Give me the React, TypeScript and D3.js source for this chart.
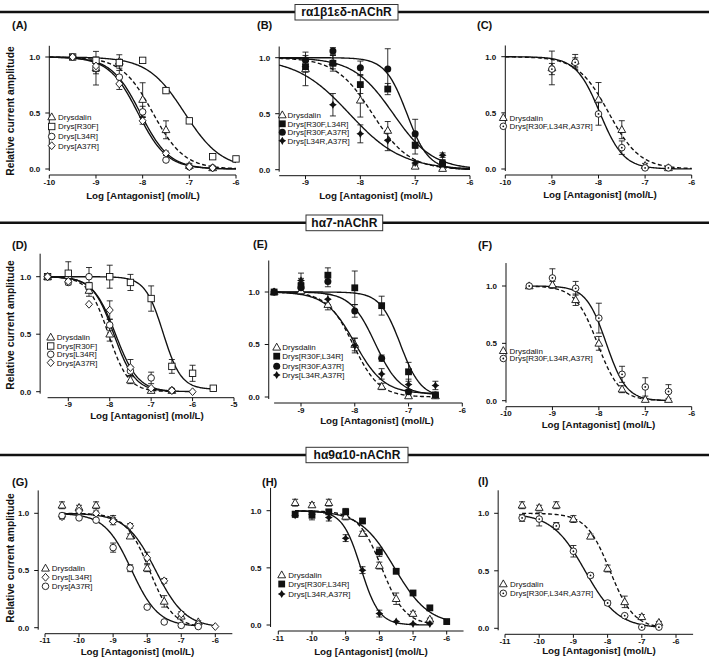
import React from 'react';
import * as d3 from 'd3';

// ---------- DATA ----------
// rat α1β1εδ
const ratX = [-9, -8.5, -8, -7.5, -7, -6.5];
const ratDrysY = [0.9, 0.96, 0.62, 0.35, 0.03, 0.01];
const ratDrysErr = [0.15, 0.06, 0.15, 0.08, 0.02, 0.01];
const ratDrysFit = [-7.78, 1.3, 1, 0];

const aX8 = [-9.5, -9, -8.5, -8, -7.5, -7, -6.5, -6];
const aX7 = [-9.5, -9, -8.5, -8, -7.5, -7, -6.5];
const aR30FY = [1.0, 0.97, 0.95, 0.97, 0.7, 0.43, 0.11, 0.09];
const aR30FErr = [0, 0.03, 0.03, 0, 0.02, 0, 0, 0];
const aR30FFit = [-7.1, 1.1, 1, 0];
const aL34RY = [1.0, 0.9, 0.82, 0.51, 0.08, 0.02, 0.01];
const aL34RErr = [0, 0.05, 0.06, 0.05, 0, 0, 0];
const aL34RFit = [-8.05, 1.4, 1, 0];
const aA37RY = [1.0, 0.92, 0.76, 0.43, 0.14, 0.02, 0.01];
const aA37RErr = [0, 0.05, 0.05, 0.03, 0.02, 0, 0];
const aA37RFit = [-8.1, 1.4, 1, 0];

const bR30FL34RY = [0.92, 0.95, 0.76, 0.72, 0.22, 0.05];
const bR30FL34RErr = [0.05, 0.07, 0.08, 0.05, 0.08, 0.03];
const bR30FL34RFit = [-7.4, 1.2, 1, 0];
const bR30FA37RY = [0.98, 1.06, 0.91, 0.9, 0.32, 0.06];
const bR30FA37RErr = [0.04, 0.03, 0.06, 0.18, 0.13, 0.03];
const bR30FA37RFit = [-7.15, 2.2, 1, 0];
const bL34RA37RY = [0.92, 0.58, 0.32, 0.26, 0.06, 0.13];
const bL34RA37RErr = [0.04, 0.1, 0.08, 0.09, 0.02, 0.02];
const bL34RA37RFit = [-8.2, 0.9, 1, 0];

const cTripleY = [0.89, 0.95, 0.49, 0.19, 0.01, 0.01];
const cTripleErr = [0.05, 0.04, 0.1, 0.06, 0.01, 0];
const cTripleFit = [-7.97, 1.7, 1, 0];

// human α7
const h7X = [-9.5, -9, -8.5, -8, -7.5, -7, -6.5];
const h7DrysY = [1.0, 1.01, 0.88, 0.5, 0.1, 0.01, 0.01];
const h7DrysErr = [0, 0.03, 0.05, 0.06, 0.03, 0.01, 0];
const h7DrysFit = [-8.03, 1.8, 1, 0];

const dX9 = [-9.5, -9, -8.5, -8, -7.5, -7, -6.5, -6, -5.5];
const dX8 = [-9.5, -9, -8.5, -8, -7.5, -7, -6.5, -6];
const dR30FY = [1.0, 1.03, 0.92, 1.0, 0.95, 0.81, 0.22, 0.16, 0.03];
const dR30FErr = [0, 0.1, 0.03, 0.1, 0.07, 0.11, 0.06, 0.07, 0];
const dR30FFit = [-6.71, 2.0, 1, 0.02];
const dL34RY = [1.0, 0.95, 1.0, 0.58, 0.18, 0.12, 0.01];
const dL34RErr = [0, 0.02, 0.08, 0.05, 0.04, 0.05, 0];
const dL34RFit = [-7.9, 1.7, 1, 0];
const dA37RY = [1.0, 0.96, 0.76, 0.71, 0.21, 0.03, 0.01, 0.0];
const dA37RErr = [0, 0, 0, 0.08, 0.07, 0, 0, 0];
const dA37RFit = [-7.86, 1.6, 1, 0];

const eR30FL34RY = [1.0, 1.06, 1.16, 1.04, 0.87, 0.24, 0.02];
const eR30FL34RErr = [0, 0.07, 0.07, 0.16, 0.09, 0.09, 0.02];
const eR30FL34RFit = [-7.15, 2.3, 1, 0];
const eR30FA37RY = [1.0, 1.04, 1.1, 0.82, 0.37, 0.05, 0.02];
const eR30FA37RErr = [0, 0.05, 0.05, 0.06, 0.03, 0.02, 0];
const eR30FA37RFit = [-7.62, 1.9, 1, 0.02];
const eL34RA37RY = [1.0, 1.11, 0.93, 0.49, 0.22, 0.12, 0.11];
const eL34RA37RErr = [0, 0.07, 0.05, 0.07, 0.05, 0.05, 0.04];
const eL34RA37RFit = [-8.0, 1.6, 1, 0.03];

const fTripleY = [1.0, 1.07, 0.98, 0.72, 0.23, 0.12, 0.08];
const fTripleErr = [0, 0.08, 0.06, 0.13, 0.07, 0.08, 0.06];
const fTripleFit = [-7.84, 2.0, 1, 0];

// human α9α10
const h9X = [-10.5, -10, -9.5, -9, -8.5, -8, -7.5, -7, -6.5];
const h9X10 = [-10.5, -10, -9.5, -9, -8.5, -8, -7.5, -7, -6.5, -6];
const h9DrysY = [1.07, 1.05, 1.07, 0.95, 0.8, 0.52, 0.23, 0.1, 0.05];
const h9DrysErr = [0.03, 0.02, 0.03, 0.03, 0.02, 0.03, 0.05, 0.02, 0.01];
const h9DrysFit = [-7.93, 1.25, 1, 0];

const gL34RY = [0.97, 1.02, 1.0, 0.93, 0.89, 0.61, 0.41, 0.12, 0.03, 0.01];
const gL34RErr = [0.02, 0.02, 0.02, 0.03, 0.02, 0.05, 0.02, 0.02, 0, 0];
const gL34RFit = [-7.75, 1.0, 1, 0];
const gA37RY = [0.98, 0.96, 0.94, 0.7, 0.52, 0.18, 0.05, 0.02, 0.01];
const gA37RErr = [0.02, 0, 0, 0.04, 0.03, 0, 0, 0, 0];
const gA37RFit = [-8.46, 1.1, 1, 0.01];

const hR30FL34RY = [0.97, 0.96, 0.99, 0.99, 0.91, 0.64, 0.47, 0.28, 0.15, 0.03];
const hR30FL34RErr = [0.02, 0.04, 0.02, 0.03, 0.02, 0.04, 0.02, 0.02, 0.02, 0];
const hR30FL34RFit = [-7.55, 0.85, 1, 0];
const hL34RA37RY = [0.96, 0.97, 0.94, 0.76, 0.48, 0.1, 0.03, 0.01, 0.01];
const hL34RA37RErr = [0.02, 0.02, 0.03, 0.03, 0.03, 0.03, 0, 0, 0];
const hL34RA37RFit = [-8.55, 1.6, 1, 0];

const iTripleY = [0.96, 0.95, 0.89, 0.67, 0.46, 0.22, 0.11, 0.01, 0.01];
const iTripleErr = [0.03, 0.06, 0.03, 0.05, 0.02, 0.02, 0, 0, 0];
const iTripleFit = [-8.66, 0.9, 1, 0];

const headerTitles = ['rα1β1εδ-nAChR', 'hα7-nAChR', 'hα9α10-nAChR'];
const yTickVals = [0, 0.5, 1.0];

// ---------- TYPES ----------
type Sym = 'triOpen' | 'sqOpen' | 'circOpen' | 'diaOpen' | 'sqFill' | 'circFill' | 'diaFill' | 'circDot';
interface Series {
  name: string; sym: Sym; xs: number[]; ys: number[]; errs: number[]; fit: number[]; dashed?: boolean;
}
interface Panel {
  label: string; labelX: number; labelY: number;
  xd: number[]; xr: number[]; yAxisAt: number; xFrom: number; xTo: number; xTicks: number[];
  yr: number[]; yTop: number;
  xLabelX: number; xLabelY: number; yLabel?: number[];
  legSymX: number; legTextX: number; legRows: number[];
  series: Series[]; fullCurve: boolean;
}

const S = (name: string, sym: Sym, xs: number[], ys: number[], errs: number[], fit: number[], dashed = false): Series =>
  ({ name, sym, xs, ys, errs, fit, dashed });

const ratDrys = S('Drysdalin', 'triOpen', ratX, ratDrysY, ratDrysErr, ratDrysFit, true);
const h7Drys = S('Drysdalin', 'triOpen', h7X, h7DrysY, h7DrysErr, h7DrysFit, true);
const h9Drys = S('Drysdalin', 'triOpen', h9X, h9DrysY, h9DrysErr, h9DrysFit, true);

const panels: Panel[] = [
  {
    label: '(A)', labelX: 12, labelY: 25,
    xd: [-10, -6], xr: [49.3, 236], yAxisAt: -10, xFrom: -10, xTo: -6, xTicks: [-10, -9, -8, -7, -6],
    yr: [169, 57], yTop: 1.1, xLabelX: 143, xLabelY: 195, yLabel: [10, 111],
    legSymX: 51.7, legTextX: 58, legRows: [117, 126.5, 136.5, 145.7],
    fullCurve: true,
    series: [ratDrys,
      S('Drys[R30F]', 'sqOpen', aX8, aR30FY, aR30FErr, aR30FFit),
      S('Drys[L34R]', 'circOpen', aX7, aL34RY, aL34RErr, aL34RFit),
      S('Drys[A37R]', 'diaOpen', aX7, aA37RY, aA37RErr, aA37RFit)],
  },
  {
    label: '(B)', labelX: 257, labelY: 25,
    xd: [-9, -6], xr: [305.5, 470], yAxisAt: -9.48, xFrom: -9.48, xTo: -6, xTicks: [-9, -8, -7, -6],
    yr: [169.7, 57.7], yTop: 1.1, xLabelX: 376, xLabelY: 195,
    legSymX: 282.3, legTextX: 287.5, legRows: [115, 123.8, 132.3, 140.8],
    fullCurve: true,
    series: [ratDrys,
      S('Drys[R30F,L34R]', 'sqFill', ratX, bR30FL34RY, bR30FL34RErr, bR30FL34RFit),
      S('Drys[R30F,A37R]', 'circFill', ratX, bR30FA37RY, bR30FA37RErr, bR30FA37RFit),
      S('Drys[L34R,A37R]', 'diaFill', ratX, bL34RA37RY, bL34RA37RErr, bL34RA37RFit)],
  },
  {
    label: '(C)', labelX: 477, labelY: 25,
    xd: [-10, -6], xr: [505.3, 691.7], yAxisAt: -10, xFrom: -10, xTo: -6, xTicks: [-10, -9, -8, -7, -6],
    yr: [169, 56.7], yTop: 1.1, xLabelX: 600, xLabelY: 194,
    legSymX: 503.3, legTextX: 509.5, legRows: [117.7, 126.3],
    fullCurve: true,
    series: [ratDrys,
      S('Drys[R30F,L34R,A37R]', 'circDot', ratX, cTripleY, cTripleErr, cTripleFit)],
  },
  {
    label: '(D)', labelX: 12, labelY: 245,
    xd: [-9, -5], xr: [68.3, 234], yAxisAt: -9.68, xFrom: -9.5, xTo: -5, xTicks: [-9, -8, -7, -6, -5],
    yr: [391.7, 276.7], yTop: 1.2, xLabelX: 147, xLabelY: 415, yLabel: [10, 325],
    legSymX: 50.7, legTextX: 56.7, legRows: [337.3, 346, 354.3, 362.7],
    fullCurve: false,
    series: [h7Drys,
      S('Drys[R30F]', 'sqOpen', dX9, dR30FY, dR30FErr, dR30FFit),
      S('Drys[L34R]', 'circOpen', h7X, dL34RY, dL34RErr, dL34RFit),
      S('Drys[A37R]', 'diaOpen', dX8, dA37RY, dA37RErr, dA37RFit)],
  },
  {
    label: '(E)', labelX: 253, labelY: 243.5,
    xd: [-9, -6], xr: [301, 462.3], yAxisAt: -9.6, xFrom: -9.5, xTo: -6, xTicks: [-9, -8, -7, -6],
    yr: [397, 292], yTop: 1.3, xLabelX: 377, xLabelY: 420,
    legSymX: 276.7, legTextX: 282.3, legRows: [347.3, 356.2, 366.3, 375],
    fullCurve: false,
    series: [h7Drys,
      S('Drys[R30F,L34R]', 'sqFill', h7X, eR30FL34RY, eR30FL34RErr, eR30FL34RFit),
      S('Drys[R30F,A37R]', 'circFill', h7X, eR30FA37RY, eR30FA37RErr, eR30FA37RFit),
      S('Drys[L34R,A37R]', 'diaFill', h7X, eL34RA37RY, eL34RA37RErr, eL34RA37RFit)],
  },
  {
    label: '(F)', labelX: 478, labelY: 245,
    xd: [-10, -6], xr: [506, 691.7], yAxisAt: -10, xFrom: -10, xTo: -6, xTicks: [-10, -9, -8, -7, -6],
    yr: [400.7, 286], yTop: 1.2, xLabelX: 598.5, xLabelY: 424.5,
    legSymX: 503.3, legTextX: 509.5, legRows: [350.7, 358.5],
    fullCurve: false,
    series: [h7Drys,
      S('Drys[R30F,L34R,A37R]', 'circDot', h7X, fTripleY, fTripleErr, fTripleFit)],
  },
  {
    label: '(G)', labelX: 12, labelY: 482,
    xd: [-11, -6], xr: [45, 215.3], yAxisAt: -11.2, xFrom: -11, xTo: -5.5, xTicks: [-11, -10, -9, -8, -7, -6],
    yr: [627.7, 513.3], yTop: 1.2, xLabelX: 137.5, xLabelY: 651.7, yLabel: [10, 558],
    legSymX: 45.5, legTextX: 51.7, legRows: [568.3, 577.3, 586.3],
    fullCurve: false,
    series: [h9Drys,
      S('Drys[L34R]', 'diaOpen', h9X10, gL34RY, gL34RErr, gL34RFit),
      S('Drys[A37R]', 'circOpen', h9X, gA37RY, gA37RErr, gA37RFit)],
  },
  {
    label: '(H)', labelX: 262, labelY: 482,
    xd: [-11, -6], xr: [278.3, 446.7], yAxisAt: -11.23, xFrom: -11, xTo: -5.5, xTicks: [-11, -10, -9, -8, -7, -6],
    yr: [625, 510.7], yTop: 1.2, xLabelX: 371, xLabelY: 651.7,
    legSymX: 281.7, legTextX: 288.3, legRows: [575, 584, 594],
    fullCurve: false,
    series: [h9Drys,
      S('Drys[R30F,L34R]', 'sqFill', h9X10, hR30FL34RY, hR30FL34RErr, hR30FL34RFit),
      S('Drys[L34R,A37R]', 'diaFill', h9X, hL34RA37RY, hL34RA37RErr, hL34RA37RFit)],
  },
  {
    label: '(I)', labelX: 478, labelY: 481,
    xd: [-11, -6], xr: [505, 676], yAxisAt: -11.2, xFrom: -11, xTo: -5.5, xTicks: [-11, -10, -9, -8, -7, -6],
    yr: [628.3, 513.3], yTop: 1.2, xLabelX: 599, xLabelY: 650.5,
    legSymX: 503.3, legTextX: 510, legRows: [584, 593.3],
    fullCurve: false,
    series: [h9Drys,
      S('Drys[R30F,L34R,A37R]', 'circDot', h9X, iTripleY, iTripleErr, iTripleFit)],
  },
];

const headers = [
  { lineY: 12, box: [295, 4.5, 103, 15.5] },
  { lineY: 222.7, box: [306, 215, 76.7, 15.7] },
  { lineY: 455, box: [306, 447.3, 102, 15.4] },
];

const FONT = "'Liberation Sans', Arial, Helvetica, sans-serif";
const INK = '#111';

const hill = (x: number, p: number[]) => p[3] + (p[2] - p[3]) / (1 + Math.pow(10, (x - p[0]) * p[1]));

function Marker({ sym, x, y }: { sym: Sym; x: number; y: number }) {
  const sw = 0.9;
  switch (sym) {
    case 'triOpen':
      return <polygon points={`${x},${y - 4.1} ${x - 3.9},${y + 2.8} ${x + 3.9},${y + 2.8}`} fill="#fff" stroke={INK} strokeWidth={sw} />;
    case 'sqOpen':
      return <rect x={x - 3.2} y={y - 3.2} width={6.4} height={6.4} fill="#fff" stroke={INK} strokeWidth={sw} />;
    case 'circOpen':
      return <circle cx={x} cy={y} r={3.3} fill="#fff" stroke={INK} strokeWidth={sw} />;
    case 'diaOpen':
      return <polygon points={`${x},${y - 3.9} ${x + 3.5},${y} ${x},${y + 3.9} ${x - 3.5},${y}`} fill="#fff" stroke={INK} strokeWidth={sw} />;
    case 'sqFill':
      return <rect x={x - 3.4} y={y - 3.4} width={6.8} height={6.8} fill={INK} />;
    case 'circFill':
      return <circle cx={x} cy={y} r={3.5} fill={INK} />;
    case 'diaFill':
      return <polygon points={`${x},${y - 4.1} ${x + 1.5},${y - 1.5} ${x + 3.9},${y} ${x + 1.5},${y + 1.5} ${x},${y + 4.1} ${x - 1.5},${y + 1.5} ${x - 3.9},${y} ${x - 1.5},${y - 1.5}`} fill={INK} />;
    case 'circDot':
      return (
        <g>
          <circle cx={x} cy={y} r={3.3} fill="#fff" stroke={INK} strokeWidth={sw} />
          <circle cx={x} cy={y} r={0.9} fill={INK} />
        </g>
      );
  }
  return null;
}

function PanelView({ p }: { p: Panel }) {
  const x = d3.scaleLinear().domain(p.xd).range(p.xr);
  const y = d3.scaleLinear().domain([0, 1]).range(p.yr);
  const ax = x(p.yAxisAt);
  const xAxisY = y(0) + 6;
  const line = d3.line<number[]>().x(d => d[0]).y(d => d[1]);

  const curves = p.series.map((s, i) => {
    const from = p.fullCurve ? p.yAxisAt : s.xs[0];
    const to = p.fullCurve ? p.xTo : s.xs[s.xs.length - 1];
    const xs = d3.range(from, to + 0.0001, 0.02);
    const pts = xs.map(v => [x(v), y(hill(v, s.fit))]);
    return (
      <path key={'c' + i} d={line(pts) || ''} fill="none" stroke={INK} strokeWidth={1.35}
        strokeDasharray={s.dashed ? '4,2.5' : undefined} />
    );
  });

  const errs = p.series.map((s, i) => (
    <g key={'e' + i} stroke={INK} strokeWidth={0.85}>
      {s.xs.map((xv, j) => {
        const e = s.errs[j];
        if (!e) return null;
        const cx = x(xv);
        const y1 = y(s.ys[j] - e), y2 = y(s.ys[j] + e);
        return (
          <g key={j}>
            <line x1={cx} x2={cx} y1={y1} y2={y2} />
            <line x1={cx - 3} x2={cx + 3} y1={y1} y2={y1} />
            <line x1={cx - 3} x2={cx + 3} y1={y2} y2={y2} />
          </g>
        );
      })}
    </g>
  ));

  const marks = p.series.map((s, i) => (
    <g key={'m' + i}>
      {s.xs.map((xv, j) => <Marker key={j} sym={s.sym} x={x(xv)} y={y(s.ys[j])} />)}
    </g>
  ));

  return (
    <g fontFamily={FONT}>
      <text x={p.labelX} y={p.labelY + 4} fontSize={11} fontWeight="bold" fill={INK}>{p.label}</text>
      <line x1={ax} x2={ax} y1={y(p.yTop)} y2={y(0) + 2} stroke={INK} strokeWidth={1} />
      {yTickVals.map(v => (
        <g key={'yt' + v}>
          <line x1={ax - 4} x2={ax} y1={y(v)} y2={y(v)} stroke={INK} strokeWidth={1} />
          <text x={ax - 9} y={y(v) + 2.8} fontSize={8} fontWeight="bold" textAnchor="end" fill={INK}>{d3.format('.1f')(v)}</text>
        </g>
      ))}
      <line x1={x(p.xFrom)} x2={x(p.xTo)} y1={xAxisY} y2={xAxisY} stroke={INK} strokeWidth={1} />
      {p.xTicks.map(v => (
        <g key={'xt' + v}>
          <line x1={x(v)} x2={x(v)} y1={xAxisY} y2={xAxisY + 3.5} stroke={INK} strokeWidth={1} />
          <text x={x(v)} y={xAxisY + 9.5} fontSize={8} fontWeight="bold" textAnchor="middle" fill={INK}>{'-' + Math.abs(v)}</text>
        </g>
      ))}
      <text x={p.xLabelX} y={p.xLabelY + 3.5} fontSize={9.8} fontWeight="bold" textAnchor="middle" fill={INK}>Log [Antagonist] (mol/L)</text>
      {p.yLabel && (
        <text transform={`translate(${p.yLabel[0] + 3.5},${p.yLabel[1]}) rotate(-90)`} fontSize={10.3} fontWeight="bold" textAnchor="middle" fill={INK}>Relative current amplitude</text>
      )}
      {curves}
      {errs}
      {marks}
      {p.series.map((s, i) => (
        <g key={'l' + i}>
          <Marker sym={s.sym} x={p.legSymX} y={p.legRows[i]} />
          <text x={p.legTextX} y={p.legRows[i] + 2.9} fontSize={8} fill={INK}>{s.name}</text>
        </g>
      ))}
    </g>
  );
}

export default function App() {
  return (
    <svg width={709} height={659} style={{ position: 'absolute', left: 0, top: 0, background: '#fff' }}>
      <rect x={0} y={0} width={709} height={659} fill="#fff" />
      {headers.map((h, i) => (
        <g key={'h' + i}>
          <line x1={0} x2={709} y1={h.lineY} y2={h.lineY} stroke={INK} strokeWidth={2.6} />
          <rect x={h.box[0]} y={h.box[1]} width={h.box[2]} height={h.box[3]} fill="#fff" stroke="#333" strokeWidth={1} />
          <text x={h.box[0] + h.box[2] / 2} y={h.box[1] + h.box[3] / 2 + 4.2} fontFamily={FONT} fontSize={12} fontWeight="bold" textAnchor="middle" fill={INK}>{headerTitles[i]}</text>
        </g>
      ))}
      {panels.map((p, i) => <PanelView key={i} p={p} />)}
    </svg>
  );
}
